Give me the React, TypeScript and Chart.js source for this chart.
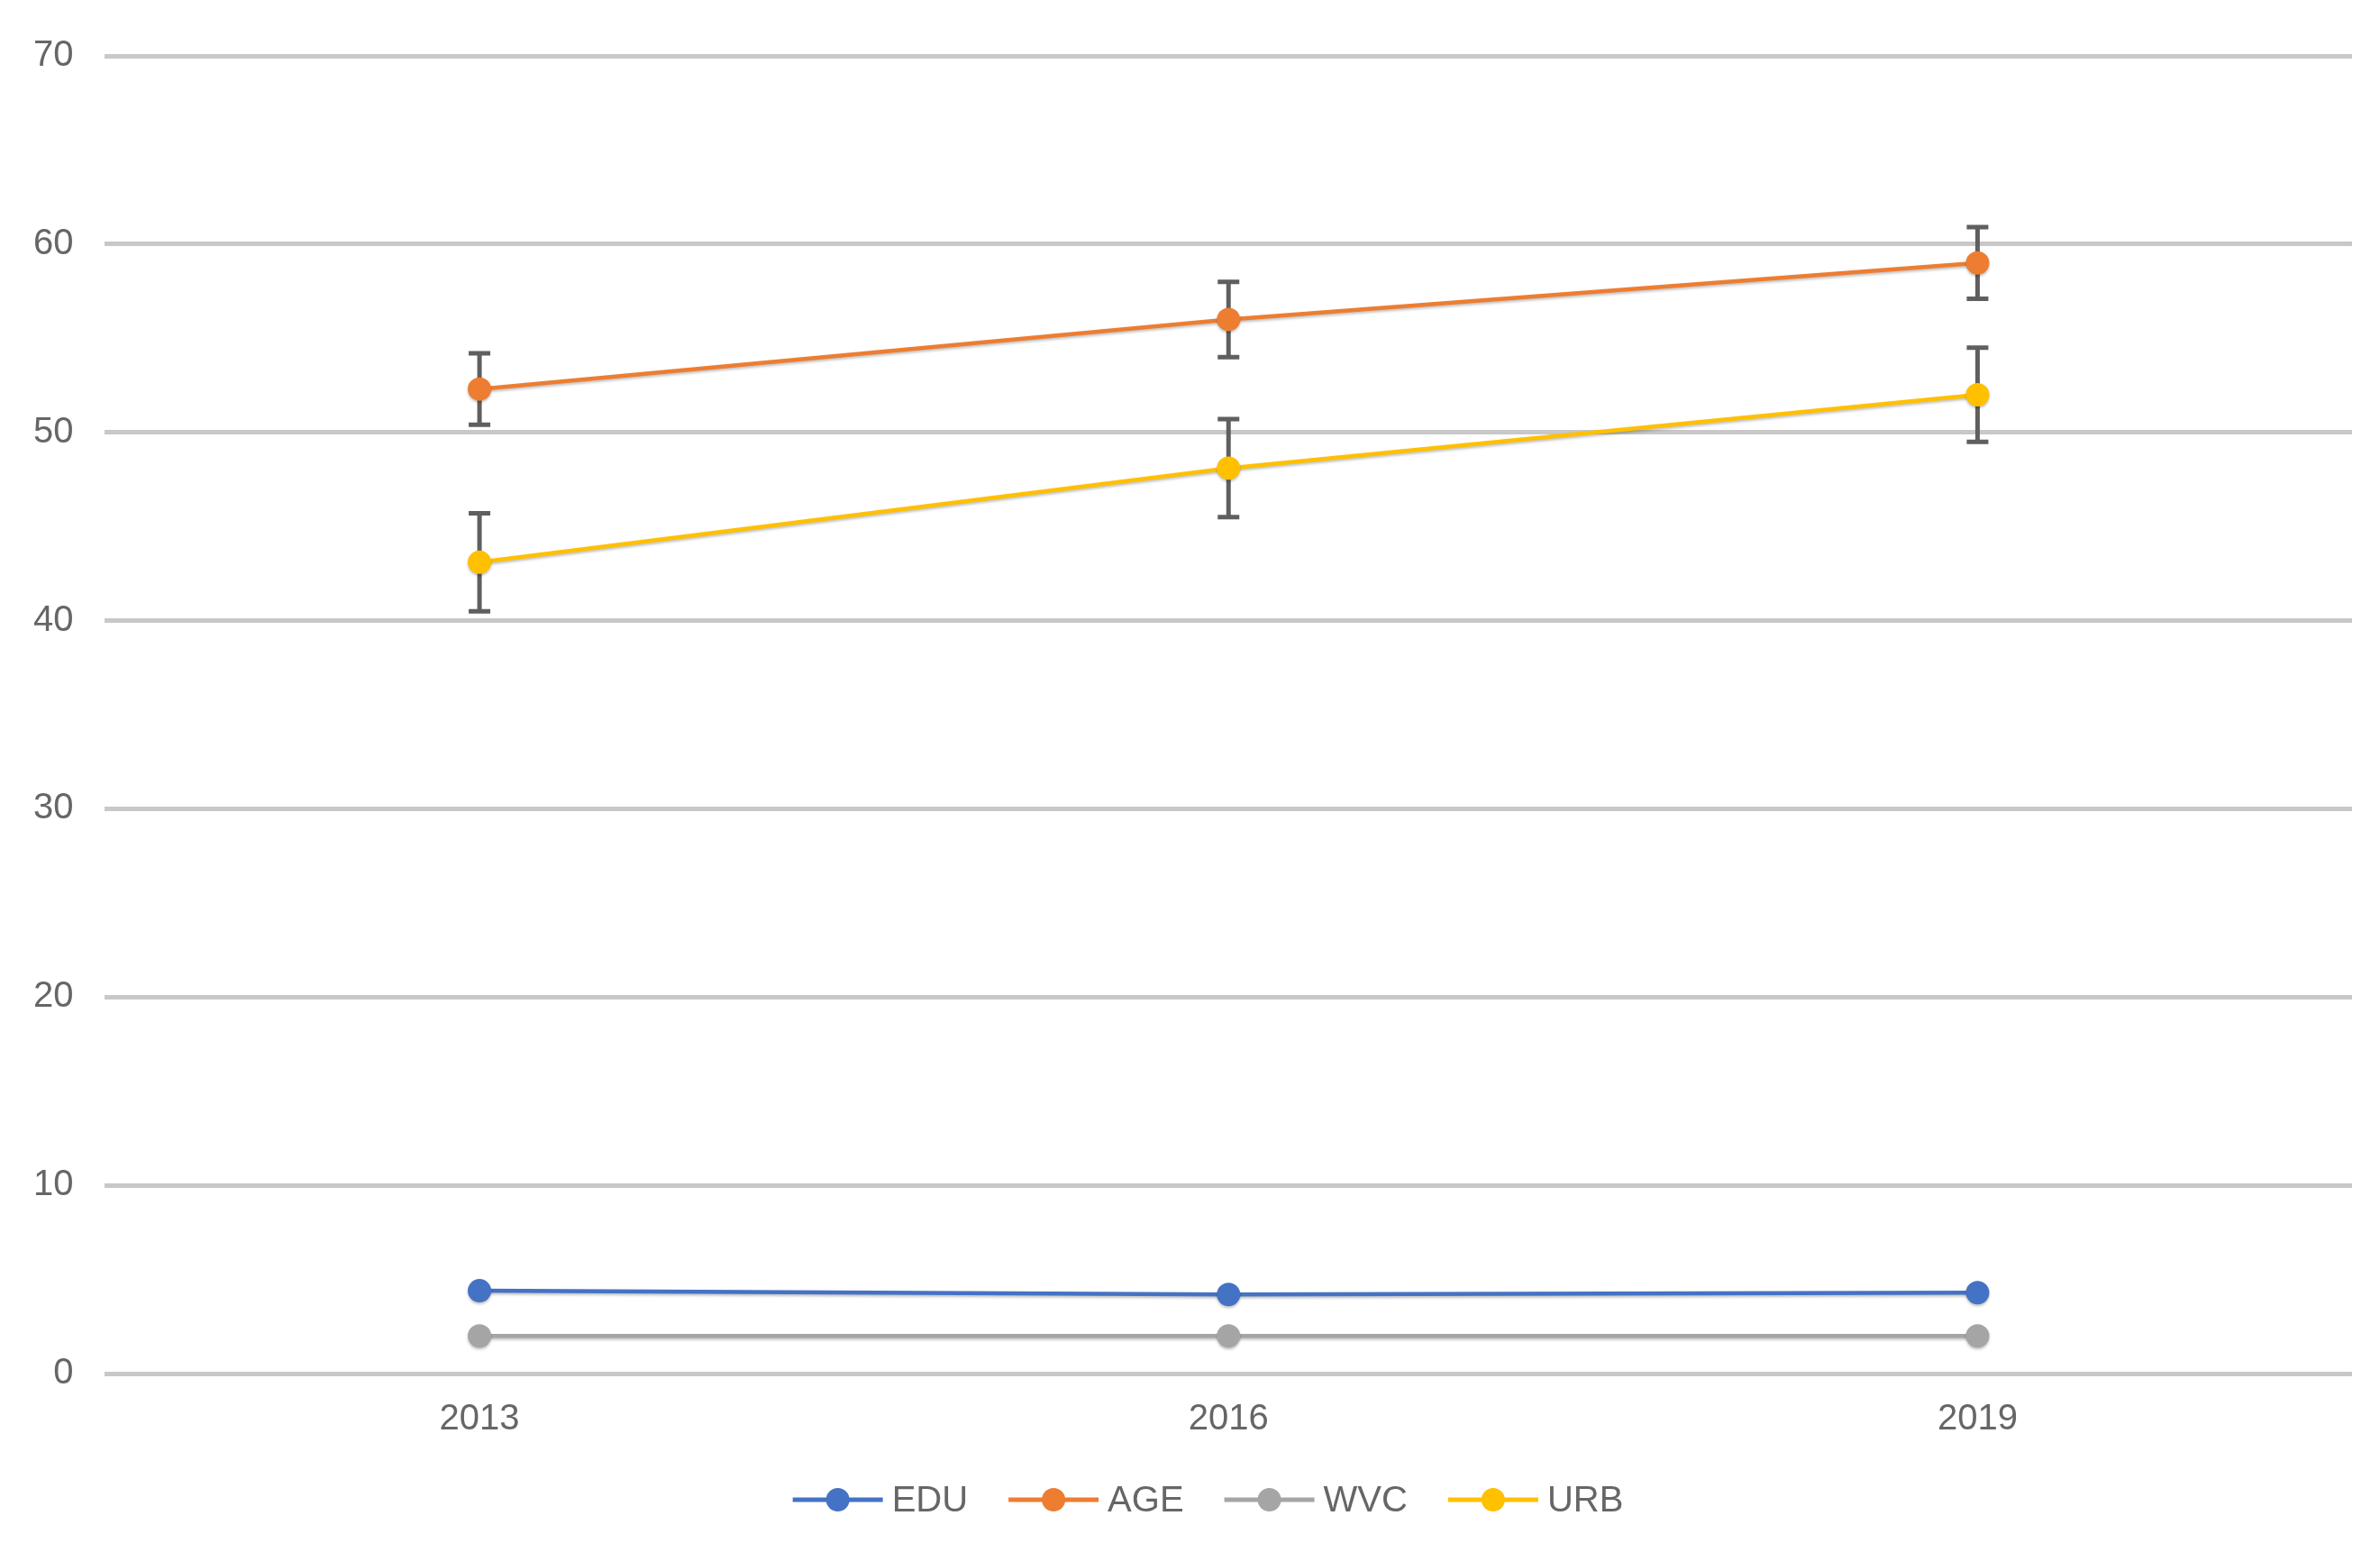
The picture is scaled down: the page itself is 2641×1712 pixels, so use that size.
import React, { useEffect, useRef } from "react";
import { Chart, registerables } from "chart.js";

Chart.register(...registerables);

const YEARS = ["2013", "2016", "2019"];
const SERIES_NAMES = ["EDU", "AGE", "WVC", "URB"];
const EDU = [4.4, 4.2, 4.3];
const AGE = [52.3, 56.0, 59.0];
const WVC = [2.0, 2.0, 2.0];
const URB = [43.1, 48.1, 52.0];
const AGE_ERR = [1.9, 2.0, 1.9];
const URB_ERR = [2.6, 2.6, 2.5];
const COLORS = ["#4472C4", "#ED7D31", "#A5A5A5", "#FFC000"];
const Y_MIN = 0;
const Y_MAX = 70;
const Y_STEP = 10;

const FONT = "'Liberation Sans', Arial, sans-serif";
const TEXT_COLOR = "#666666";

export default function App() {
  const ref = useRef<HTMLCanvasElement | null>(null);

  useEffect(() => {
    document.body.style.margin = "0";
    const canvas = ref.current;
    if (!canvas) return;

    const errs: (number[] | null)[] = [null, AGE_ERR, null, URB_ERR];
    const values = [EDU, AGE, WVC, URB];

    const extras = {
      id: "extras",
      beforeDatasetsDraw(chart: any) {
        const ctx = chart.ctx;
        const xs = chart.scales.x;
        const ys = chart.scales.y;
        ctx.save();
        ctx.strokeStyle = "#5f5f5f";
        errs.forEach((e, di) => {
          if (!e) return;
          values[di].forEach((v, i) => {
            const x = xs.getPixelForValue(i);
            const yt = ys.getPixelForValue(v + e[i]);
            const yb = ys.getPixelForValue(v - e[i]);
            ctx.lineWidth = 5;
            ctx.beginPath();
            ctx.moveTo(x, yt);
            ctx.lineTo(x, yb);
            ctx.stroke();
            ctx.beginPath();
            ctx.moveTo(x - 12, yt);
            ctx.lineTo(x + 12, yt);
            ctx.moveTo(x - 12, yb);
            ctx.lineTo(x + 12, yb);
            ctx.stroke();
          });
        });
        ctx.restore();
        ctx.save();
        ctx.shadowColor = "rgba(0,0,0,0.25)";
        ctx.shadowBlur = 3;
        ctx.shadowOffsetY = 2;
      },
      afterDatasetsDraw(chart: any) {
        chart.ctx.restore();
      },
      afterDraw(chart: any) {
        // legend: line + marker + label, centred below the axis
        const ctx = chart.ctx;
        const lineLen = 100;
        const gap = 10;
        const itemGap = 45;
        ctx.save();
        ctx.font = `40px ${FONT}`;
        ctx.textBaseline = "middle";
        ctx.textAlign = "left";
        const widths = SERIES_NAMES.map((n) => lineLen + gap + ctx.measureText(n).width);
        const total = widths.reduce((a, b) => a + b, 0) + itemGap * (SERIES_NAMES.length - 1);
        let x = chart.width / 2 + 20 - total / 2;
        const y = chart.height - 48;
        SERIES_NAMES.forEach((n, i) => {
          ctx.strokeStyle = COLORS[i];
          ctx.lineWidth = 5;
          ctx.beginPath();
          ctx.moveTo(x, y);
          ctx.lineTo(x + lineLen, y);
          ctx.stroke();
          ctx.fillStyle = COLORS[i];
          ctx.beginPath();
          ctx.arc(x + lineLen / 2, y, 13, 0, Math.PI * 2);
          ctx.fill();
          ctx.fillStyle = TEXT_COLOR;
          ctx.fillText(n, x + lineLen + gap, y + 2);
          x += widths[i] + itemGap;
        });
        ctx.restore();
      },
    };

    const chart = new Chart(canvas, {
      type: "line",
      data: {
        labels: YEARS,
        datasets: SERIES_NAMES.map((name, i) => ({
          label: name,
          data: values[i],
          borderColor: COLORS[i],
          backgroundColor: COLORS[i],
          borderWidth: 4.5,
          pointRadius: 13,
          pointBorderWidth: 0,
          pointBackgroundColor: COLORS[i],
          tension: 0,
        })),
      },
      options: {
        animation: false,
        responsive: false,
        devicePixelRatio: 1,
        events: [],
        layout: { padding: { left: 2, right: 31, top: 62, bottom: 86 } },
        scales: {
          x: {
            offset: true,
            grid: { display: false, drawTicks: false },
            border: { display: false },
            ticks: {
              padding: 27,
              color: TEXT_COLOR,
              font: { family: FONT, size: 40 },
            },
          },
          y: {
            min: Y_MIN,
            max: Y_MAX,
            grid: { color: "#c8c8c8", lineWidth: 5, drawTicks: false },
            border: { display: false },
            ticks: {
              stepSize: Y_STEP,
              padding: 35,
              color: TEXT_COLOR,
              font: { family: FONT, size: 40 },
            },
          },
        },
        plugins: {
          tooltip: { enabled: false },
          legend: { display: false },
        },
      },
      plugins: [extras],
    } as any);

    return () => chart.destroy();
  }, []);

  return (
    <div style={{ position: "fixed", left: 0, top: 0, width: 2641, height: 1712 }}>
      <canvas ref={ref} width={2641} height={1712} />
    </div>
  );
}
